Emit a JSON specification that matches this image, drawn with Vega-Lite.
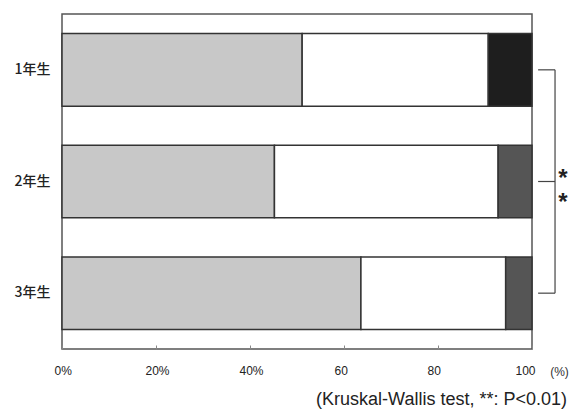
{
  "$schema": "https://vega.github.io/schema/vega-lite/v6.json",
  "width": 470,
  "height": 335,
  "autosize": "none",
  "padding": {"left": 62, "top": 14, "right": 38, "bottom": 60},
  "background": "white",
  "config": {"view": {"stroke": "#555", "strokeWidth": 1.5}},
  "title": {
    "text": "(Kruskal-Wallis test, **: P<0.01)",
    "orient": "bottom",
    "anchor": "end",
    "frame": "group",
    "dx": 35,
    "offset": 14,
    "fontSize": 18,
    "fontWeight": "normal",
    "font": "Liberation Sans",
    "color": "#222"
  },
  "data": {
    "values": [
      {"grade": "1年生", "cat": "A", "pct": 51.1},
      {"grade": "1年生", "cat": "B", "pct": 39.6},
      {"grade": "1年生", "cat": "D", "pct": 9.3},
      {"grade": "2年生", "cat": "A", "pct": 45.2},
      {"grade": "2年生", "cat": "B", "pct": 47.6},
      {"grade": "2年生", "cat": "C", "pct": 7.2},
      {"grade": "3年生", "cat": "A", "pct": 63.6},
      {"grade": "3年生", "cat": "B", "pct": 30.8},
      {"grade": "3年生", "cat": "C", "pct": 5.6}
    ]
  },
  "layer": [
    {
      "mark": {"type": "bar", "stroke": "#333", "strokeWidth": 1.5},
      "encoding": {
        "y": {
          "field": "grade",
          "type": "nominal",
          "sort": ["1年生", "2年生", "3年生"],
          "scale": {"paddingInner": 0.35, "paddingOuter": 0.175},
          "axis": {
            "title": null,
            "ticks": false,
            "domain": false,
            "labelPadding": 12,
            "labelFont": "Noto Sans CJK JP",
            "labelFontSize": 14,
            "labelFontWeight": 500,
            "labelColor": "#222"
          }
        },
        "x": {
          "field": "pct",
          "type": "quantitative",
          "stack": "zero",
          "scale": {"domain": [0, 100]},
          "axis": {
            "values": [0, 20, 40, 60, 80, 100],
            "labelExpr": "datum.value <= 40 ? datum.value + '%' : datum.label",
            "grid": false,
            "domain": false,
            "tickSize": -4,
            "tickColor": "#888",
            "labelPadding": 20,
            "labelAlign": "left",
            "labelOffset": {"expr": "datum.value == 0 ? -8 : datum.value == 100 ? -17 : datum.value == 60 ? -10 : -11"},
            "labelFont": "Liberation Sans",
            "labelFontSize": 12,
            "labelColor": "#222",
            "title": "(%)",
            "titleFont": "Liberation Sans",
            "titleFontSize": 12,
            "titleFontWeight": "normal",
            "titleColor": "#333",
            "titleAnchor": "start",
            "titleAlign": "center",
            "titleBaseline": "middle",
            "titleX": 497,
            "titleY": 22
          }
        },
        "color": {
          "field": "cat",
          "type": "nominal",
          "scale": {"domain": ["A", "B", "C", "D"], "range": ["#c8c8c8", "#ffffff", "#555555", "#1e1e1e"]},
          "legend": null
        },
        "order": {"field": "cat"}
      }
    },
    {
      "data": {"values": [{}]},
      "mark": {"type": "rule", "color": "#444", "strokeWidth": 1.2, "clip": false},
      "encoding": {
        "x": {"datum": 104.9, "type": "quantitative"},
        "y": {"datum": "1年生", "type": "nominal"},
        "y2": {"datum": "3年生"}
      }
    },
    {
      "data": {"values": [{"grade": "1年生"}, {"grade": "2年生"}, {"grade": "3年生"}]},
      "mark": {"type": "rule", "color": "#444", "strokeWidth": 1.2, "clip": false},
      "encoding": {
        "x": {"datum": 101.3, "type": "quantitative"},
        "x2": {"datum": 104.9},
        "y": {"field": "grade", "type": "nominal"}
      }
    },
    {
      "data": {"values": [{}]},
      "mark": {
        "type": "text",
        "text": ["*", "*"],
        "lineHeight": 24,
        "fontSize": 24,
        "fontWeight": "bold",
        "font": "Liberation Sans",
        "color": "#222",
        "baseline": "middle",
        "align": "center",
        "dy": -3,
        "clip": false
      },
      "encoding": {
        "x": {"datum": 106.6, "type": "quantitative"},
        "y": {"datum": "2年生", "type": "nominal"}
      }
    }
  ]
}
